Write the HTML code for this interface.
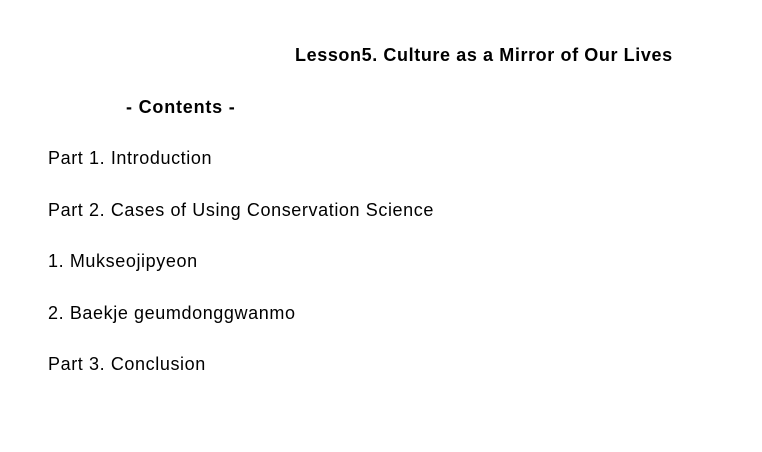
<!DOCTYPE html>
<html><head><meta charset="utf-8"><style>
html,body{margin:0;padding:0;background:#fff;}
body{width:762px;height:452px;position:relative;overflow:hidden;font-family:"Liberation Sans","Noto Sans CJK KR",sans-serif;color:#000;font-size:18px;letter-spacing:0.6px;}
div{position:absolute;white-space:nowrap;line-height:1;}
.b{font-weight:bold;}
</style></head><body>
<div class="b" style="left:295px;top:46px;font-size:18px;">Lesson5. Culture as a Mirror of Our Lives</div>
<div class="b" style="left:126px;top:98px;letter-spacing:0.8px;">- Contents -</div>
<div style="left:48px;top:149px;">Part 1. Introduction</div>
<div style="left:48px;top:201px;">Part 2. Cases of Using Conservation Science</div>
<div style="left:48px;top:252px;">1. Mukseojipyeon</div>
<div style="left:48px;top:304px;">2. Baekje geumdonggwanmo</div>
<div style="left:48px;top:355px;">Part 3. Conclusion</div>
</body></html>
